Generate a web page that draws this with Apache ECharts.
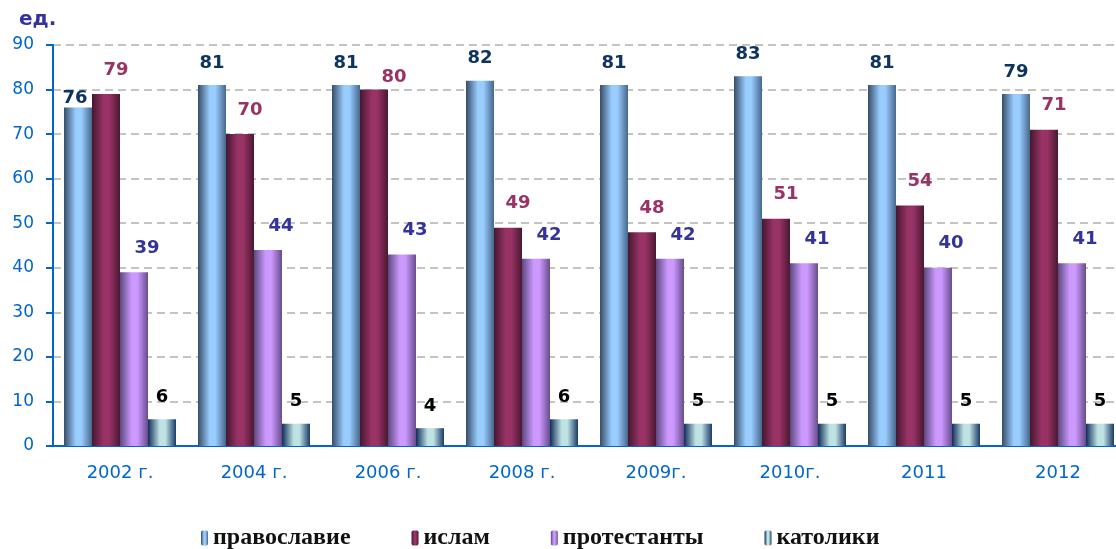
<!DOCTYPE html>
<html>
<head>
<meta charset="utf-8">
<title>Religious organisations</title>
<script src="https://cdn.jsdelivr.net/npm/echarts@6/dist/echarts.min.js"></script>
<style>
  html, body { margin: 0; padding: 0; background: #fff; }
  #chart { width: 1116px; height: 549px; }
</style>
</head>
<body>
<div id="chart"></div>
<script>
// years on the x axis
const years = ['2002 г.', '2004 г.', '2006 г.', '2008 г.', '2009г.', '2010г.', '2011', '2012'];
const seriesNames = ['православие', 'ислам', 'протестанты', 'католики'];
// values per series
const orthodox = [76, 81, 81, 82, 81, 83, 81, 79];
const islam = [79, 70, 80, 49, 48, 51, 54, 71];
const protestant = [39, 44, 43, 42, 42, 41, 40, 41];
const catholic = [6, 5, 4, 6, 5, 5, 5, 5];

// horizontal gradient, dark edges light middle (like the excel bars)
function barGradient(edgeL, mid, edgeR) {
  return new echarts.graphic.LinearGradient(0, 0, 1, 0, [
    {offset: 0, color: edgeL},
    {offset: 0.42, color: mid},
    {offset: 0.62, color: mid},
    {offset: 1, color: edgeR}
  ]);
}

const styles = [
  {fill: barGradient('#364c66', '#99ccff', '#46678c'), label: '#0d3461', offset: [0, 0]},
  {fill: barGradient('#45172f', '#993366', '#4a1830'), label: '#993366', offset: [10, -2]},
  {fill: barGradient('#5c4880', '#cc99ff', '#684c8c'), label: '#333399', offset: [13, -2]},
  {fill: barGradient('#0f2d5a', '#bfe3e3', '#1a3a6a'), label: '#000000', offset: [0, 0]}
];

// a couple of labels were dragged by hand in the original
const labelNudge = {
  '0-0': [-3, 13],
  '1-2': [20, 10]
};

function buildData(values, si) {
  return values.map(function (v, i) {
    const nudge = labelNudge[si + '-' + i];
    if (!nudge) return v;
    return {value: v, label: {offset: nudge}};
  });
}

const allValues = [orthodox, islam, protestant, catholic];
const series = allValues.map(function (vals, si) {
  return {
    name: seriesNames[si],
    type: 'bar',
    barWidth: 28,
    barGap: '0%',
    itemStyle: {color: styles[si].fill},
    label: {
      show: true,
      position: 'top',
      distance: 13,
      offset: styles[si].offset,
      color: styles[si].label,
      fontFamily: 'DejaVu Sans',
      fontWeight: 'bold',
      fontSize: 18
    },
    data: buildData(vals, si)
  };
});

const chart = echarts.init(document.getElementById('chart'));
const blue = '#0066cc';
chart.setOption({
  animation: false,
  title: {
    text: 'ед.',
    left: 14,
    top: 5,
    textStyle: {color: '#333399', fontFamily: 'DejaVu Sans', fontWeight: 'bold', fontSize: 20}
  },
  legend: {
    bottom: -6,
    left: 196,
    itemWidth: 7,
    itemHeight: 15,
    itemGap: 61,
    textStyle: {fontFamily: 'Liberation Serif', fontWeight: 'bold', fontSize: 24, color: '#111'},
    data: seriesNames
  },
  grid: {
    left: 53,
    right: -9,
    top: 45,
    bottom: 103,
    containLabel: false,
    outerBoundsMode: 'none'
  },
  xAxis: {
    type: 'category',
    data: years,
    axisLine: {lineStyle: {color: blue, width: 2}},
    axisTick: {length: 6, lineStyle: {color: blue, width: 2}},
    axisLabel: {color: blue, fontFamily: 'DejaVu Sans', fontSize: 18, margin: 18}
  },
  yAxis: {
    type: 'value',
    min: 0,
    max: 90,
    interval: 10,
    axisLine: {show: true, lineStyle: {color: blue, width: 2}},
    axisTick: {show: true, length: 7, lineStyle: {color: blue, width: 2}},
    axisLabel: {color: blue, fontFamily: 'DejaVu Sans', fontSize: 17, margin: 19},
    splitLine: {lineStyle: {color: '#c4c4c4', width: 2, type: [8, 5]}}
  },
  series: series
});
</script>
</body>
</html>
